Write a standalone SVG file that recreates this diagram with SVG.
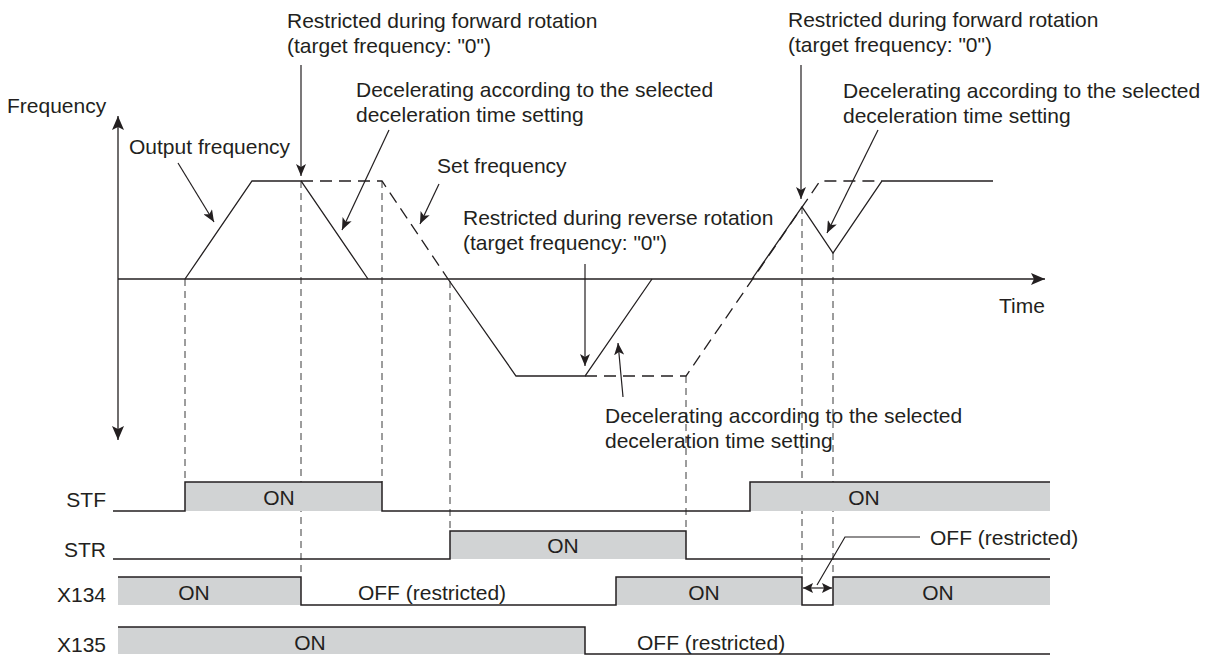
<svg xmlns="http://www.w3.org/2000/svg" width="1219" height="655" viewBox="0 0 1219 655">
<style>
text{font-family:"Liberation Sans",Arial,sans-serif;font-size:21px;fill:#231f20}
.ln{fill:none;stroke:#231f20;stroke-width:1.3}
.ds{fill:none;stroke:#231f20;stroke-width:1.3;stroke-dasharray:12,7}
.vd{fill:none;stroke:#3a3a3a;stroke-width:1;stroke-dasharray:7,5}
.wave{fill:none;stroke:#231f20;stroke-width:1.5}
.on{fill:#d1d3d4;stroke:none}
.ar{fill:none;stroke:#231f20;stroke-width:1.2}
.mid{text-anchor:middle}
.end{text-anchor:end}
</style>
<defs>
<marker id="ah" markerUnits="userSpaceOnUse" markerWidth="14" markerHeight="10" refX="12" refY="5" orient="auto">
<path d="M0,0 L12,5 L0,10 L3,5 Z" fill="#231f20"/>
</marker>
<marker id="axh" markerUnits="userSpaceOnUse" markerWidth="16" markerHeight="12" refX="14" refY="6" orient="auto">
<path d="M0,0 L14,6 L0,12 L3,6 Z" fill="#231f20"/>
</marker>
<marker id="sh" markerUnits="userSpaceOnUse" markerWidth="12" markerHeight="10" refX="10" refY="5" orient="auto-start-reverse">
<path d="M0,0 L10,5 L0,10 L2,5 Z" fill="#231f20"/>
</marker>
</defs>

<g id="guides">
<line class="vd" x1="185" y1="279" x2="185" y2="482"/>
<line class="vd" x1="301" y1="181" x2="301" y2="577"/>
<line class="vd" x1="382" y1="181" x2="382" y2="482"/>
<line class="vd" x1="450" y1="281" x2="450" y2="531"/>
<line class="vd" x1="686" y1="376" x2="686" y2="531"/>
<line class="vd" x1="802" y1="207" x2="802" y2="577"/>
<line class="vd" x1="833" y1="253" x2="833" y2="577"/>
</g>

<g id="axes">
<line class="ln" x1="118" y1="279" x2="118" y2="116" marker-end="url(#axh)"/>
<line class="ln" x1="118" y1="279" x2="118" y2="440" marker-end="url(#axh)"/>
<line class="ln" x1="118" y1="279" x2="1045" y2="279" marker-end="url(#axh)"/>
<text x="7" y="113">Frequency</text>
<text x="999" y="313">Time</text>
</g>

<g id="set-frequency">
<polyline class="ds" points="301,181 382,181 448,279"/>
<polyline class="ds" points="585,376 686,376 820,181 882,181"/>
</g>

<g id="output-frequency">
<polyline class="ln" points="185,279 252,181 301,181 368,279"/>
<polyline class="ln" points="448,279 516,376 585,376 652,279"/>
<polyline class="ln" points="752,279 802,207 833,253 882,181 993,181"/>
</g>

<g id="annotations">
<line class="ar" x1="178" y1="163" x2="214" y2="222" marker-end="url(#ah)"/>
<text x="129" y="154">Output frequency</text>

<line class="ar" x1="301" y1="65" x2="301" y2="176" marker-end="url(#ah)"/>
<text x="287" y="28">Restricted during forward rotation</text>
<text x="287" y="53">(target frequency: "0")</text>

<line class="ar" x1="389" y1="130" x2="342" y2="230" marker-end="url(#ah)"/>
<text x="356" y="97">Decelerating according to the selected</text>
<text x="356" y="122">deceleration time setting</text>

<line class="ar" x1="439" y1="184" x2="420" y2="224" marker-end="url(#ah)"/>
<text x="437" y="173">Set frequency</text>

<line class="ar" x1="585" y1="264" x2="585" y2="366" marker-end="url(#ah)"/>
<text x="463" y="225">Restricted during reverse rotation</text>
<text x="463" y="250">(target frequency: "0")</text>

<line class="ar" x1="623" y1="397" x2="618" y2="343" marker-end="url(#ah)"/>
<text x="605" y="423">Decelerating according to the selected</text>
<text x="605" y="448">deceleration time setting</text>

<line class="ar" x1="801" y1="65" x2="801" y2="199" marker-end="url(#ah)"/>
<text x="788" y="27">Restricted during forward rotation</text>
<text x="788" y="52">(target frequency: "0")</text>

<line class="ar" x1="878" y1="130" x2="827" y2="233" marker-end="url(#ah)"/>
<text x="843" y="98">Decelerating according to the selected</text>
<text x="843" y="123">deceleration time setting</text>
</g>

<g id="STF">
<rect class="on" x="185" y="482" width="197" height="29"/>
<rect class="on" x="750" y="482" width="300" height="29"/>
<polyline class="wave" points="113,511 185,511 185,482 382,482 382,511 750,511 750,482 1050,482"/>
<text class="end" x="106" y="507">STF</text>
<text class="mid" x="279" y="505">ON</text>
<text class="mid" x="864" y="505">ON</text>
</g>

<g id="STR">
<rect class="on" x="450" y="531" width="236" height="28"/>
<polyline class="wave" points="113,559 450,559 450,531 686,531 686,559 1050,559"/>
<text class="end" x="106" y="557">STR</text>
<text class="mid" x="563" y="553">ON</text>
</g>

<g id="X134">
<rect class="on" x="118" y="577" width="183" height="28"/>
<rect class="on" x="616" y="577" width="186" height="28"/>
<rect class="on" x="833" y="577" width="217" height="28"/>
<polyline class="wave" points="118,577 301,577 301,605 616,605 616,577 802,577 802,605 833,605 833,577 1050,577"/>
<text class="end" x="106" y="602">X134</text>
<text class="mid" x="194" y="600">ON</text>
<text class="mid" x="432" y="600">OFF (restricted)</text>
<text class="mid" x="704" y="600">ON</text>
<text class="mid" x="938" y="600">ON</text>
<line class="ar" x1="803" y1="588" x2="832" y2="588" marker-start="url(#sh)" marker-end="url(#sh)"/>
<polyline class="ar" points="817,585 845,537 920,537"/>
<text x="930" y="545">OFF (restricted)</text>
</g>

<g id="X135">
<rect class="on" x="118" y="627" width="467" height="27"/>
<polyline class="wave" points="118,627 585,627 585,654 1050,654"/>
<text class="end" x="106" y="652">X135</text>
<text class="mid" x="310" y="650">ON</text>
<text x="637" y="650">OFF (restricted)</text>
</g>
</svg>
